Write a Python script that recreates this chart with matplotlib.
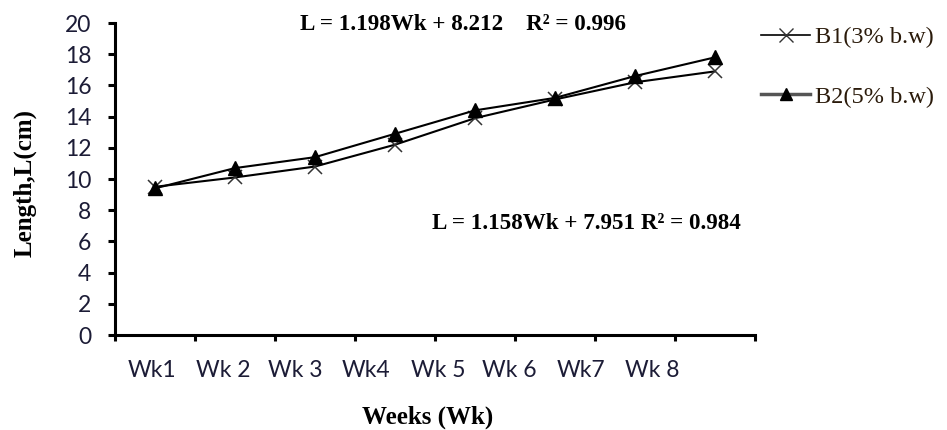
import numpy as np
import matplotlib
matplotlib.use("Agg")
import matplotlib.pyplot as plt
from matplotlib.lines import Line2D

# data
weeks = ["Wk1", "Wk 2", "Wk 3", "Wk4", "Wk 5", "Wk 6", "Wk7", "Wk 8"]
b1 = [9.5, 10.1, 10.8, 12.2, 13.9, 15.1, 16.2, 16.9]
b2 = [9.4, 10.7, 11.4, 12.9, 14.4, 15.2, 16.6, 17.8]
series_names = ["B1(3% b.w)", "B2(5% b.w)"]
eq_b2 = "L = 1.198Wk + 8.212    R² = 0.996"
eq_b1 = "L = 1.158Wk + 7.951 R² = 0.984"

serif = "Liberation Serif"
sans = "Lato"
tick_col = "#1c1c36"

fig = plt.figure(figsize=(9.47, 4.30), dpi=100)
ax = fig.add_axes([0.1214, 0.2209, 0.6759, 0.7256])

x = np.arange(1, len(weeks) + 1)
ax.plot(x, b1, color="black", lw=1.5, marker="x", ms=10, mew=1.1,
        mec="#333333", zorder=3)
ax.plot(x, b2, color="black", lw=1.5, marker="^", ms=10, mfc="black",
        mec="black", zorder=4)

ax.set_xlim(0.5, len(weeks) + 0.5)
ax.set_ylim(0, 20)
ax.set_yticks(np.arange(0, 21, 2))

# category boundaries carry the tick marks, labels sit a bit off-centre
ax.set_xticks(np.arange(0.5, len(weeks) + 1, 1.0))
ax.set_xticklabels([])
label_pos = 0.96 + np.arange(len(weeks)) * 0.894
ax.set_xticks(label_pos, minor=True)
ax.set_xticklabels(weeks, minor=True)
ax.tick_params(axis="x", which="minor", length=0, pad=18,
               labelsize=16.5, labelcolor=tick_col)
ax.tick_params(axis="x", which="major", direction="out", length=4.5,
               width=2.2)
ax.tick_params(axis="y", direction="out", length=5, width=2.2, pad=12,
               labelsize=16.5, labelcolor=tick_col)
for lab in ax.get_xticklabels(minor=True) + ax.get_yticklabels():
    lab.set_fontfamily(sans)

for side in ["top", "right"]:
    ax.spines[side].set_visible(False)
for side in ["left", "bottom"]:
    ax.spines[side].set_linewidth(2.2)
    ax.spines[side].set_capstyle("projecting")

ax.text(0.289, 0.994, eq_b2, transform=ax.transAxes, fontfamily=serif,
        fontweight="bold", fontsize=16.6, ha="left", va="center")
ax.text(0.495, 0.359, eq_b1, transform=ax.transAxes, fontfamily=serif,
        fontweight="bold", fontsize=16.6, ha="left", va="center")

fig.text(0.026, 0.574, "Length,L(cm)", rotation=90, fontfamily=serif,
         fontweight="bold", fontsize=18, ha="center", va="center")
fig.text(0.452, 0.030, "Weeks (Wk)", fontfamily=serif, fontweight="bold",
         fontsize=18, ha="center", va="center")

handles = [
    Line2D([], [], color="black", lw=1.2, marker="x", ms=10, mew=1.0,
           mec="#333333"),
    Line2D([], [], color="#555555", lw=2.5, marker="^", ms=9, mfc="black",
           mec="black"),
]
fig.legend(handles, series_names, loc="upper left",
           bbox_to_anchor=(0.781, 0.99), frameon=False,
           prop={"family": serif, "size": 17.5}, handlelength=2.0,
           handletextpad=0.2, labelspacing=1.55, labelcolor="#2a1a0a")

fig.savefig("out.png", dpi=100)
